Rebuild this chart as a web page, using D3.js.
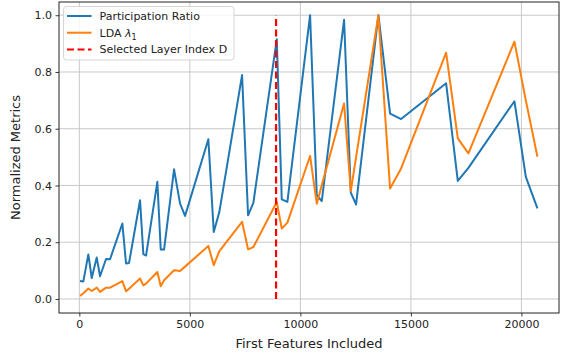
<!DOCTYPE html>
<html>
<head>
<meta charset="utf-8">
<script src="https://cdn.jsdelivr.net/npm/d3@7"></script>
<style>
  body { margin: 0; background: #fff; }
  text { font-family: "DejaVu Sans", sans-serif; fill: #222; }
</style>
</head>
<body>
<div id="chart"></div>
<script>
// first-N feature counts (shared by both curves)
var features = [32, 181, 407, 561, 787, 937, 1208, 1389, 1946, 2113, 2249, 2747, 2896, 3018,
  3529, 3683, 3833, 4285, 4557, 4783, 5837, 6081, 6335, 7362, 7633, 7873, 8932, 9158, 9412,
  10439, 10742, 10968, 11977, 12281, 12520, 13529, 14059, 14557, 16593, 17122, 17602,
  19683, 20199, 20724];

var participation = [0.063, 0.062, 0.157, 0.074, 0.146, 0.080, 0.141, 0.140, 0.266, 0.125, 0.127,
  0.348, 0.158, 0.153, 0.413, 0.174, 0.174, 0.457, 0.336, 0.293, 0.563, 0.236, 0.307, 0.789,
  0.295, 0.339, 0.915, 0.351, 0.342, 1.000, 0.366, 0.345, 0.984, 0.375, 0.333, 1.000, 0.653,
  0.634, 0.760, 0.416, 0.462, 0.697, 0.430, 0.319];

var ldaLambda = [0.011, 0.020, 0.037, 0.028, 0.040, 0.025, 0.040, 0.040, 0.063, 0.027, 0.036,
  0.072, 0.048, 0.054, 0.095, 0.045, 0.066, 0.101, 0.099, 0.114, 0.187, 0.119, 0.169, 0.272,
  0.175, 0.183, 0.342, 0.248, 0.269, 0.504, 0.336, 0.401, 0.689, 0.380, 0.500, 1.000, 0.389,
  0.460, 0.868, 0.566, 0.513, 0.907, 0.700, 0.501];

var selectedLayer = 8900;
var xTicks = [0, 5000, 10000, 15000, 20000];
var yTicks = [0, 0.2, 0.4, 0.6, 0.8, 1.0];

var w = 566, h = 356,
    m = { left: 59, right: 7, top: 2, bottom: 43 };

var svg = d3.select("#chart").append("svg")
    .attr("width", w)
    .attr("height", h);

var x = d3.scaleLinear().domain([-920, 21700]).range([m.left, w - m.right]);
var y = d3.scaleLinear().domain([-0.0494, 1.0466]).range([h - m.bottom, m.top]);

// grid
var grid = svg.append("g").attr("stroke", "#b0b0b0").attr("stroke-width", 0.9).attr("opacity", 0.75);
grid.selectAll(".gx").data(xTicks).enter().append("line")
    .attr("x1", d => x(d)).attr("x2", d => x(d))
    .attr("y1", m.top).attr("y2", h - m.bottom);
grid.selectAll(".gy").data(yTicks).enter().append("line")
    .attr("x1", m.left).attr("x2", w - m.right)
    .attr("y1", d => y(d)).attr("y2", d => y(d));

var line = function(vals) {
  return d3.line().x((d, i) => x(features[i])).y(d => y(d))(vals);
};

svg.append("path").attr("d", line(participation))
    .attr("fill", "none").attr("stroke", "#1f77b4").attr("stroke-width", 2)
    .attr("stroke-linejoin", "round");
svg.append("path").attr("d", line(ldaLambda))
    .attr("fill", "none").attr("stroke", "#ff7f0e").attr("stroke-width", 2)
    .attr("stroke-linejoin", "round");

svg.append("line")
    .attr("x1", x(selectedLayer)).attr("x2", x(selectedLayer))
    .attr("y1", y(0)).attr("y2", y(1))
    .attr("stroke", "red").attr("stroke-width", 2.2)
    .attr("stroke-dasharray", "7,3.5");

// axes
var xAxis = svg.append("g")
    .attr("transform", "translate(0," + (h - m.bottom) + ")")
    .call(d3.axisBottom(x).tickValues(xTicks).tickSize(3.5).tickPadding(3.5).tickFormat(d3.format("d")));
var yAxis = svg.append("g")
    .attr("transform", "translate(" + m.left + ",0)")
    .call(d3.axisLeft(y).tickValues(yTicks).tickSize(3.5).tickPadding(3.5).tickFormat(d3.format(".1f")));
[xAxis, yAxis].forEach(function(a) {
  a.select(".domain").remove();
  a.selectAll("text").style("font-family", "DejaVu Sans").style("font-size", "11px").attr("fill", "#222");
  a.selectAll("line").attr("stroke", "#222").attr("stroke-width", 0.9);
});

svg.append("rect")
    .attr("x", m.left).attr("y", m.top)
    .attr("width", w - m.left - m.right).attr("height", h - m.top - m.bottom)
    .attr("fill", "none").attr("stroke", "#222").attr("stroke-width", 1);

svg.append("text")
    .attr("x", (m.left + w - m.right) / 2).attr("y", 348)
    .attr("text-anchor", "middle").style("font-size", "13px")
    .text("First Features Included");
svg.append("text")
    .attr("transform", "translate(20," + ((m.top + h - m.bottom) / 2) + ") rotate(-90)")
    .attr("text-anchor", "middle").style("font-size", "13px")
    .text("Normalized Metrics");

// legend
var legend = svg.append("g").attr("transform", "translate(63.5,6.5)");
legend.append("rect")
    .attr("width", 170.5).attr("height", 53.5).attr("rx", 3)
    .attr("fill", "white").attr("fill-opacity", 0.8)
    .attr("stroke", "#d0d0d0").attr("stroke-width", 0.9);
var entries = [
  { label: "Participation Ratio", color: "#1f77b4", dash: null },
  { label: "LDA", color: "#ff7f0e", dash: null, lambda: true },
  { label: "Selected Layer Index D", color: "red", dash: "7,3.5" }
];
var row = legend.selectAll(".row").data(entries).enter().append("g")
    .attr("transform", (d, i) => "translate(0," + (9.5 + i * 16.7) + ")");
row.append("line")
    .attr("x1", 3.5).attr("x2", 28)
    .attr("stroke", d => d.color).attr("stroke-width", 2)
    .attr("stroke-dasharray", d => d.dash);
var lt = row.append("text")
    .attr("x", 36).attr("y", 4)
    .style("font-size", "11px");
lt.append("tspan").text(d => d.label);
lt.filter(d => d.lambda).append("tspan").text(" λ").style("font-style", "italic");
lt.filter(d => d.lambda).append("tspan").text("1").attr("dy", 3).style("font-size", "8px");
</script>
</body>
</html>
